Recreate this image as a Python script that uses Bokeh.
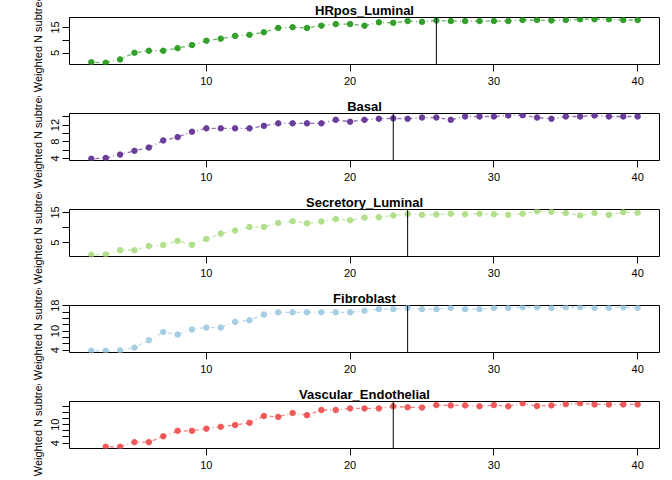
from bokeh.plotting import figure
from bokeh.layouts import column
from bokeh.models import Span, FixedTicker, Range1d
from bokeh.embed import file_html
from bokeh.resources import INLINE

# ---------------- data ----------------
x_main = list(range(2, 41))
x_vasc = list(range(3, 41))

hrpos_luminal = [1.4, 1.2, 2.5, 5.1, 5.9, 5.9, 6.9, 8.1, 9.8, 10.6, 11.7, 12.1, 13.1,
                 14.8, 15.1, 14.8, 15.7, 16.3, 16.3, 15.7, 17.0, 16.8, 17.5, 17.2,
                 17.7, 17.5, 17.5, 17.5, 17.5, 17.5, 17.9, 17.9, 17.7, 17.9, 18.2,
                 18.2, 18.2, 17.9, 17.9]
basal = [3.9, 4.1, 4.9, 5.8, 6.6, 8.3, 9.1, 10.4, 11.2, 11.2, 11.2, 11.2, 11.8,
         12.4, 12.4, 12.4, 12.4, 13.25, 12.8, 13.25, 13.5, 13.6, 13.5, 13.8, 13.8,
         13.25, 14.05, 14.05, 14.05, 14.3, 14.35, 13.8, 13.5, 14.05, 14.05, 14.3,
         14.05, 14.05, 14.05]
secretory_luminal = [1.0, 1.1, 2.5, 2.5, 3.9, 4.2, 5.6, 4.3, 6.2, 8.0, 9.0, 10.2,
                     10.2, 11.5, 12.1, 11.4, 12.0, 12.8, 12.4, 13.3, 13.4, 14.0,
                     14.5, 14.2, 14.3, 14.6, 14.4, 14.6, 14.4, 14.2, 14.6, 15.4,
                     15.2, 14.8, 14.0, 14.8, 14.2, 15.1, 14.9]
fibroblast = [3.8, 3.8, 3.9, 4.8, 7.1, 9.7, 8.9, 10.5, 11.1, 11.1, 12.9, 13.4, 15.2,
              15.9, 15.9, 15.9, 15.9, 15.9, 15.9, 16.4, 16.9, 16.9, 17.3, 16.9, 16.9,
              17.3, 16.9, 16.9, 17.3, 17.3, 17.5, 17.5, 17.3, 17.5, 17.5, 17.3, 17.3,
              17.5, 17.3]
vascular_endothelial = [2.8, 2.8, 4.3, 4.3, 6.2, 8.0, 8.0, 8.7, 9.3, 9.9, 10.6, 12.85,
                        12.55, 13.8, 13.1, 14.8, 14.8, 15.3, 15.3, 15.3, 16.0, 15.7,
                        15.6, 16.4, 16.3, 16.3, 16.0, 16.4, 16.0, 17.0, 16.1, 16.3,
                        16.7, 17.0, 16.6, 16.6, 16.6, 16.6]

titles = ["HRpos_Luminal", "Basal", "Secretory_Luminal", "Fibroblast", "Vascular_Endothelial"]
xs = [x_main, x_main, x_main, x_main, x_vasc]
series = [hrpos_luminal, basal, secretory_luminal, fibroblast, vascular_endothelial]
colors = ["#33A02C", "#6A3D9A", "#B2DF8A", "#A6CEE3", "#F05A5A"]
cut_points = [26, 23, 24, 24, 23]
y_ticks = [[5, 10, 15], [4, 6, 8, 10, 12, 14], [5, 10, 15],
           [4, 6, 8, 10, 12, 14, 16, 18], [4, 6, 8, 10, 12, 14, 16]]
y_labels_shown = [[5, 15], [4, 8, 12], [5, 15], [4, 10, 18], [4, 10]]
x_ticks = [10, 20, 30, 40]
y_axis_label = "Weighted N subtrees"

FONT = "Liberation Sans"
PANEL_H = 96

figs = []
for i in range(5):
    xv, yv = xs[i], series[i]
    xmin, xmax = 2, 40
    xpad = 0.04 * (xmax - xmin)
    ymin, ymax = min(yv), max(yv)
    ypad = 0.04 * (ymax - ymin)
    p = figure(width=672, height=PANEL_H, output_backend="svg", toolbar_location=None,
               x_range=Range1d(xmin - xpad, xmax + xpad),
               y_range=Range1d(ymin - ypad, ymax + ypad),
               min_border_left=69, min_border_right=13,
               min_border_top=12, min_border_bottom=32)
    p.title.text = titles[i]
    p.title.align = "center"
    p.title.text_font = FONT
    p.title.text_font_size = "13px"
    p.title.text_font_style = "bold"
    p.title.text_color = "black"
    p.title.text_line_height = 0.75
    p.title.standoff = 0
    p.grid.visible = False
    p.outline_line_color = "black"
    p.outline_line_width = 1
    p.background_fill_color = "white"
    p.border_fill_color = "white"

    p.line(xv, yv, line_color=colors[i], line_width=1.3, line_alpha=0.75,
           line_dash="1 3 4 3")
    p.scatter(xv, yv, size=5.5, fill_color=colors[i], line_color=colors[i])

    p.add_layout(Span(location=cut_points[i], dimension="height",
                      line_color="black", line_width=1))

    # x axis
    xa = p.xaxis[0]
    xa.ticker = FixedTicker(ticks=x_ticks, minor_ticks=[])
    xa.axis_line_color = None
    xa.major_tick_in = 0
    xa.major_tick_out = 7
    xa.major_tick_line_color = "black"
    xa.minor_tick_line_color = None
    xa.major_label_standoff = 5
    xa.major_label_text_font = FONT
    xa.major_label_text_font_size = "11px"
    xa.major_label_text_color = "black"

    # y axis
    ya = p.yaxis[0]
    ya.ticker = FixedTicker(ticks=y_ticks[i], minor_ticks=[])
    ya.major_label_overrides = {t: "" for t in y_ticks[i] if t not in y_labels_shown[i]}
    ya.axis_line_color = None
    ya.major_tick_in = 0
    ya.major_tick_out = 7
    ya.major_tick_line_color = "black"
    ya.minor_tick_line_color = None
    ya.major_label_orientation = "vertical"
    ya.major_label_standoff = 3
    ya.major_label_text_font = FONT
    ya.major_label_text_font_size = "11px"
    ya.major_label_text_color = "black"
    ya.axis_label = y_axis_label
    ya.axis_label_text_font = FONT
    ya.axis_label_text_font_size = "11px"
    ya.axis_label_text_font_style = "normal"
    ya.axis_label_text_color = "black"
    ya.axis_label_standoff = 5
    figs.append(p)

layout = column(*figs, spacing=0)
open("out.html", "w").write(file_html(layout, INLINE))
